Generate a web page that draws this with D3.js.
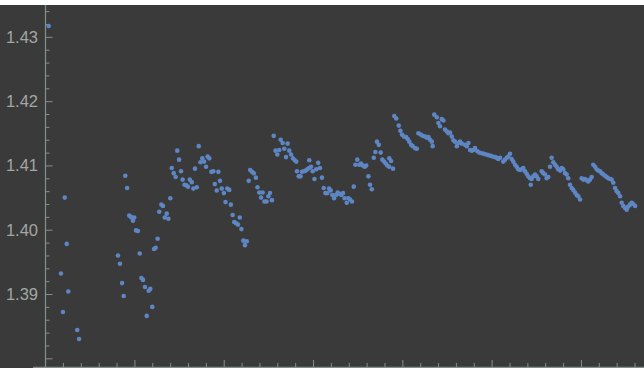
<!DOCTYPE html>
<html>
<head>
<meta charset="utf-8">
<script src="https://cdn.jsdelivr.net/npm/d3@7"></script>
<style>
  html, body { margin: 0; padding: 0; background: #ffffff; }
  svg { display: block; }
</style>
</head>
<body>
<svg id="chart" width="644" height="368"></svg>
<script>
// Measurement series: sample time and measured value
const xValues = [
  2.0, 8.9, 10.0, 11.0, 12.1, 13.0, 18.0, 19.0,
  40.8, 41.9, 43.1, 44.0, 44.9, 45.9, 47.1, 48.1, 49.0, 49.9, 49.2, 50.9,
  52.0, 53.0, 53.9, 54.8, 55.9, 56.9, 58.0, 58.9, 60.0, 61.0,
  61.9, 63.0, 63.9, 65.1, 66.0, 67.0, 68.1, 69.0, 70.1, 70.9,
  72.0, 73.1, 74.0, 75.0, 76.1, 77.0, 78.1, 79.0, 80.0, 81.0,
  82.1, 83.0, 83.9, 84.9, 86.0, 87.0, 88.0, 89.0, 90.1, 91.0,
  91.9, 93.1, 94.2, 95.0, 96.1, 97.0, 97.9, 98.9, 100.1, 101.0,
  102.0, 103.1, 104.0, 105.0, 105.9, 106.9, 108.0, 109.0, 109.9, 111.0,
  111.9, 112.9, 114.0, 114.8, 115.8, 116.8, 118.0, 118.9, 119.9, 120.9,
  121.8, 122.8, 124.0, 125.0, 125.9, 127.0, 128.0, 129.0, 130.0, 131.1,
  131.9, 133.0, 133.9, 134.9, 135.8, 136.7, 137.7, 138.8, 139.8, 140.6,
  141.0, 142.0, 143.0, 143.8, 145.0, 145.9, 146.8, 147.8, 147.9, 148.9,
  149.8, 150.8, 151.8, 152.9, 153.9, 155.0, 156.0, 156.9, 158.0, 159.0,
  159.9, 160.8, 161.8, 162.9, 163.8, 164.7, 165.8, 166.8, 167.7, 168.9,
  169.8, 170.7, 171.8, 172.8, 173.7, 174.8, 175.9, 176.9, 177.8, 178.9,
  179.8, 181.0, 181.9, 182.9, 184.0, 184.9, 185.8, 186.8, 187.9, 188.8,
  189.8, 190.7, 191.6, 192.6, 192.7, 193.7, 194.8, 195.5, 196.6, 198.0,
  198.9, 199.8, 200.9, 202.1, 203.0, 203.9, 204.9, 205.8, 207.1, 208.1,
  209.0, 210.3, 211.4, 212.7, 213.7, 214.6, 215.5, 216.5, 217.0, 217.9,
  219.3, 220.2, 221.1, 222.1, 223.0, 223.9, 224.9, 225.8, 226.7, 227.7,
  228.6, 229.5, 230.5, 231.4, 232.3, 233.3, 235.1, 236.1, 237.0, 237.9,
  238.9, 239.8, 240.7, 242.0, 243.1, 244.5, 245.7, 246.9, 248.1, 249.5,
  250.6, 251.9, 252.9, 253.7, 254.7, 256.5, 257.5, 258.5, 259.3, 260.3,
  261.2, 262.1, 263.1, 264.0, 264.9, 265.9, 266.8, 267.7, 268.7, 269.6,
  270.5, 271.5, 271.9, 272.4, 273.3, 274.3, 275.2, 276.1, 278.0, 278.9,
  279.9, 280.8, 281.7, 282.7, 283.6, 284.5, 285.5, 286.4, 287.3, 288.3,
  289.2, 290.1, 291.1, 292.0, 292.9, 293.9, 294.8, 295.7, 296.7, 297.6,
  298.5, 299.5, 300.4, 301.3, 302.3, 303.2, 304.1, 305.1, 306.0, 306.9,
  307.9, 308.8, 309.7, 310.7, 311.6, 312.5, 313.5, 314.4, 315.3, 316.3,
  317.2, 318.1, 319.1, 320.0, 320.9, 321.9, 322.8, 323.7, 324.7, 325.6,
  326.5, 327.5, 328.4, 329.3, 330.3
];

const yValues = [
  1.4317, 1.3932, 1.3872, 1.4050, 1.3978, 1.3904, 1.3844, 1.3830,
  1.3960, 1.3947, 1.3917, 1.3897, 1.4084, 1.4065, 1.4022, 1.4020, 1.4018, 1.4019, 1.4014, 1.3999,
  1.3998, 1.3963, 1.3925, 1.3922, 1.3911, 1.3866, 1.3905, 1.3908, 1.3880, 1.3970,
  1.3972, 1.3986, 1.4028, 1.4039, 1.4037, 1.4019, 1.4025, 1.4017, 1.4049, 1.4096,
  1.4088, 1.4082, 1.4123, 1.4109, 1.4091, 1.4078, 1.4070, 1.4069, 1.4067, 1.4078,
  1.4074, 1.4064, 1.4095, 1.4066, 1.4130, 1.4105, 1.4111, 1.4106, 1.4098, 1.4114,
  1.4111, 1.4090, 1.4091, 1.4071, 1.4061, 1.4090, 1.4076, 1.4064, 1.4057, 1.4043,
  1.4064, 1.4062, 1.4039, 1.4023, 1.4012, 1.4010, 1.4008, 1.4019, 1.4001, 1.3983,
  1.3976, 1.3982, 1.4076, 1.4093, 1.4090, 1.4088, 1.4081, 1.4066, 1.4058, 1.4050,
  1.4058, 1.4044, 1.4044, 1.4052, 1.4057, 1.4046, 1.4146, 1.4123, 1.4117, 1.4124,
  1.4140, 1.4135, 1.4126, 1.4113, 1.4134, 1.4123, 1.4117, 1.4111, 1.4108, 1.4106,
  1.4091, 1.4083, 1.4083, 1.4090, 1.4091, 1.4092, 1.4094, 1.4096, 1.4108, 1.4098,
  1.4091, 1.4079, 1.4094, 1.4104, 1.4096, 1.4081, 1.4065, 1.4057, 1.4057, 1.4064,
  1.4061, 1.4054, 1.4049, 1.4054, 1.4058, 1.4056, 1.4054, 1.4057, 1.4049, 1.4042,
  1.4049, 1.4047, 1.4044, 1.4067, 1.4101, 1.4109, 1.4101, 1.4103, 1.4100, 1.4098,
  1.4100, 1.4083, 1.4070, 1.4063, 1.4112, 1.4121, 1.4137, 1.4132, 1.4120, 1.4109,
  1.4106, 1.4103, 1.4100, 1.4098, 1.4111, 1.4107, 1.4095, 1.4177, 1.4173, 1.4162,
  1.4154, 1.4148, 1.4145, 1.4144, 1.4141, 1.4137, 1.4132, 1.4130, 1.4127, 1.4126,
  1.4150, 1.4148, 1.4146, 1.4145, 1.4143, 1.4144, 1.4140, 1.4137, 1.4130, 1.4179,
  1.4175, 1.4166, 1.4161, 1.4172, 1.4170, 1.4156, 1.4153, 1.4150, 1.4151, 1.4145,
  1.4139, 1.4137, 1.4130, 1.4135, 1.4137, 1.4134, 1.4132, 1.4130, 1.4135, 1.4124,
  1.4123, 1.4124, 1.4127, 1.4122, 1.4120, 1.4119, 1.4118, 1.4117, 1.4116, 1.4115,
  1.4114, 1.4113, 1.4112, 1.4110, 1.4112, 1.4106, 1.4109, 1.4112, 1.4114, 1.4118,
  1.4110, 1.4106, 1.4101, 1.4098, 1.4094, 1.4093, 1.4094, 1.4096, 1.4091, 1.4087,
  1.4083, 1.4080, 1.4070, 1.4079, 1.4083, 1.4086, 1.4083, 1.4079, 1.4091, 1.4088,
  1.4086, 1.4080, 1.4082, 1.4098, 1.4112, 1.4105, 1.4101, 1.4098, 1.4094, 1.4092,
  1.4096, 1.4094, 1.4088, 1.4086, 1.4080, 1.4070, 1.4065, 1.4062, 1.4058, 1.4054,
  1.4052, 1.4047, 1.4080, 1.4078, 1.4079, 1.4077, 1.4075, 1.4078, 1.4082, 1.4101,
  1.4098, 1.4094, 1.4092, 1.4091, 1.4088, 1.4086, 1.4084, 1.4082, 1.4080, 1.4079,
  1.4078, 1.4073, 1.4065, 1.4060, 1.4057, 1.4052, 1.4042, 1.4037, 1.4034, 1.4031,
  1.4036, 1.4039, 1.4042, 1.4040, 1.4037
];

// Axis ticks
const yMajorTicks = [1.38, 1.39, 1.40, 1.41, 1.42, 1.43];
const yTickLabels = ["", "1.39", "1.40", "1.41", "1.42", "1.43"];
const xMajorTicks = [0, 50, 100, 150, 200, 250, 300];

const W = 644, H = 368;
const frameTop = 5;
const plotLeft = 45.5, plotBottom = 367;

const svg = d3.select("#chart");

// dark frame
svg.append("rect")
  .attr("x", 0).attr("y", frameTop)
  .attr("width", W).attr("height", H - frameTop)
  .attr("fill", "#3a3a3a");

const x = d3.scaleLinear().domain([0, 335.3]).range([45.1, W]);
const y = d3.scaleLinear().domain([1.37865, 1.4348]).range([plotBottom, 6]);

const axisColor = "#84908b";
const labelColor = "#a2a7a4";

// minor tick positions
const yMinor = d3.range(1.378, 1.4349, 0.002)
  .filter(v => !yMajorTicks.some(t => Math.abs(t - v) < 1e-6));
const xMinor = d3.range(10, 336, 10)
  .filter(v => v % 50 !== 0);

// y axis: ticks point inward (to the right)
const yAxisMajor = d3.axisRight(y)
  .tickValues(yMajorTicks)
  .tickSize(7)
  .tickFormat("");
const yAxisMinor = d3.axisRight(y)
  .tickValues(yMinor)
  .tickSize(4)
  .tickFormat("");

const gy = svg.append("g").attr("transform", `translate(${plotLeft},0)`);
gy.append("g").call(yAxisMinor);
gy.append("g").call(yAxisMajor);
gy.selectAll(".domain").remove();
gy.selectAll("line").attr("stroke", axisColor).attr("stroke-width", 1);

svg.append("line")
  .attr("x1", plotLeft).attr("x2", plotLeft)
  .attr("y1", frameTop).attr("y2", plotBottom)
  .attr("stroke", axisColor).attr("stroke-width", 1.2);

// y tick labels
svg.append("g")
  .selectAll("text")
  .data(yMajorTicks.map((v, i) => ({ v, label: yTickLabels[i] })).filter(d => d.label))
  .join("text")
  .attr("x", 38)
  .attr("y", d => y(d.v))
  .attr("dy", "0.36em")
  .attr("text-anchor", "end")
  .attr("font-family", "'Liberation Sans', Arial, sans-serif")
  .attr("font-size", 16.5)
  .attr("fill", labelColor)
  .text(d => d.label);

// x axis: ticks point up into the plot
const xAxisMajor = d3.axisTop(x)
  .tickValues(xMajorTicks)
  .tickSize(7)
  .tickFormat("");
const xAxisMinor = d3.axisTop(x)
  .tickValues(xMinor)
  .tickSize(4)
  .tickFormat("");

const gx = svg.append("g").attr("transform", `translate(0,${plotBottom})`);
gx.append("g").call(xAxisMinor);
gx.append("g").call(xAxisMajor);
gx.selectAll(".domain").remove();
gx.selectAll("line").attr("stroke", axisColor).attr("stroke-width", 1);

svg.append("line")
  .attr("x1", 33).attr("x2", W)
  .attr("y1", plotBottom + 0.5).attr("y2", plotBottom + 0.5)
  .attr("stroke", axisColor).attr("stroke-width", 1.6);

// points
const points = xValues.map((v, i) => ({ x: v, y: yValues[i] }));
svg.append("g")
  .selectAll("circle")
  .data(points)
  .join("circle")
  .attr("cx", d => x(d.x))
  .attr("cy", d => y(d.y))
  .attr("r", 2.3)
  .attr("fill", "#5e86c4");
</script>
</body>
</html>
